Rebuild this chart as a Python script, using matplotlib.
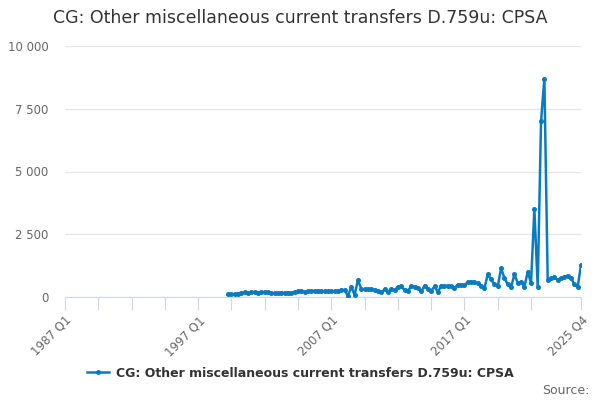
import matplotlib.pyplot as plt
import numpy as np

# quarters from 1987 Q1 (index 0) to 2025 Q4 (index 155); series starts 1999 Q2
quarters = [f"{y} Q{q}" for y in range(1987, 2026) for q in range(1, 5)]
start = 49
values = [110, 120, 110, 130, 150, 180, 170, 190, 200, 160,
          180, 200, 190, 150, 140, 140, 170, 160, 170, 160,
          210, 220, 220, 210, 230, 240, 240, 250, 230, 220,
          230, 220, 230, 250, 280, 280, 40, 400, 80, 680,
          320, 300, 310, 300, 290, 250, 180, 300, 200, 330,
          280, 400, 420, 280, 250, 420, 400, 340, 220, 450,
          300, 250, 420, 200, 450, 440, 450, 430, 360, 480,
          480, 470, 600, 600, 600, 550, 440, 350, 900, 700,
          500, 420, 1150, 750, 500, 380, 900, 560, 600, 400,
          1000, 550, 3500, 400, 7000, 8700, 680, 750, 800, 680,
          750, 800, 850, 760, 500, 400, 1270]
label_pos = [0, 40, 80, 120, 155]
series_name = "CG: Other miscellaneous current transfers D.759u: CPSA"

x = np.arange(start, start + len(values))
blue = '#0b7bc1'

fig = plt.figure(figsize=(6, 4), dpi=100)
ax = fig.add_axes([0.1083, 0.2575, 0.8600, 0.6275])

ax.plot(x, values, color=blue, lw=1.8, marker='o', ms=2.6, zorder=3)

ax.set_xlim(0, 155)
ax.set_ylim(0, 10000)
ax.set_yticks([0, 2500, 5000, 7500, 10000])
ax.set_yticklabels(['0', '2 500', '5 000', '7 500', '10 000'])
ax.grid(axis='y', color='#e6e6e6', lw=0.9)
ax.set_axisbelow(True)

ax.set_xticks(list(range(0, 141, 10)) + [155])
ax.set_xticklabels([quarters[i] if i in label_pos else '' for i in ax.get_xticks().astype(int)],
                   rotation=45, ha='right', rotation_mode='anchor')
ax.tick_params(axis='x', length=9, color='#ccd6eb', labelsize=8.5, labelcolor='#666666', pad=3)
ax.tick_params(axis='y', length=0, labelsize=8.5, labelcolor='#666666', pad=12)

for s in ['top', 'right', 'left']:
    ax.spines[s].set_visible(False)
ax.spines['bottom'].set_color('#ccd6eb')

fig.text(0.5, 0.955, series_name, ha='center', va='center', fontsize=12.5, color='#333333')

leg = fig.legend([ax.lines[0]], [series_name], loc='center', bbox_to_anchor=(0.5, 0.067),
                 frameon=False, prop={'weight': 'bold', 'size': 9}, handlelength=1.8,
                 handletextpad=0.5)
for t in leg.get_texts():
    t.set_color('#333333')

fig.text(0.982, 0.025, 'Source:', ha='right', va='center', fontsize=9, color='#666666')

fig.savefig('out.png', dpi=100)
